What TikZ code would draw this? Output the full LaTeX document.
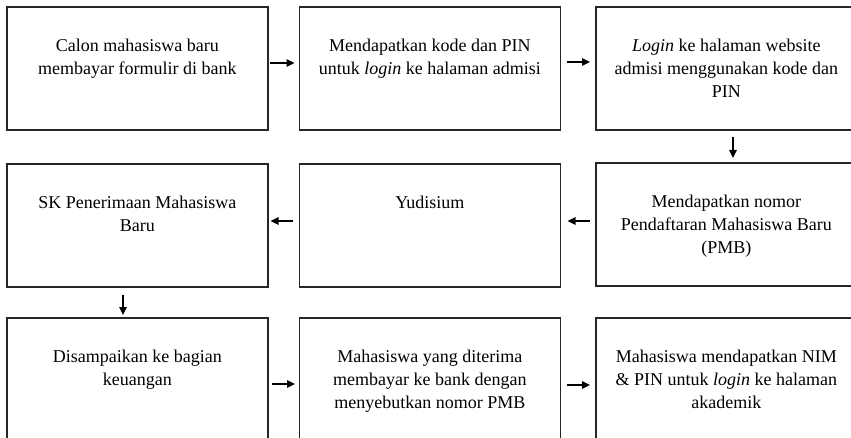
\documentclass[tikz,border=0pt]{standalone}
\usepackage{fontspec}
\setmainfont{Liberation Serif}
\usetikzlibrary{arrows.meta}
\begin{document}
\begin{tikzpicture}[x=1pt,y=-1pt,
  box/.style={draw=black!85, line width=1.6pt, minimum width=261pt, minimum height=123pt, anchor=north west, inner sep=0pt},
  txt/.style={anchor=north, align=center, inner sep=0pt, font=\fontsize{18}{23}\selectfont},
  arr/.style={-{Triangle[length=8pt,width=7.5pt]}, line width=1.4pt}]
\useasboundingbox (0,0) rectangle (851,438);
\clip (0,0) rectangle (851,438);
% row 1
\node[box] (b1) at (6,6) {};
\node[box] (b2) at (298.5,6) {};
\node[box] (b3) at (595,6) {};
% row 2
\node[box] (b6) at (6,163) {};
\node[box] (b5) at (298.5,163) {};
\node[box] (b4) at (595,162) {};
% row 3
\node[box] (b7) at (6,317) {};
\node[box] (b8) at (298.5,317) {};
\node[box] (b9) at (595,317) {};
% texts
\node[txt] (t1) at ([yshift=-33pt]b1.north) {Calon mahasiswa baru\\membayar formulir di bank};
\node[txt] (t2) at ([yshift=-33pt]b2.north) {Mendapatkan kode dan PIN\\untuk \textit{login} ke halaman admisi};
\node[txt] (t3) at ([yshift=-33pt]b3.north) {\textit{Login} ke halaman website\\admisi menggunakan kode dan\\PIN};
\node[txt] (t4) at ([yshift=-33pt]b4.north) {Mendapatkan nomor\\Pendaftaran Mahasiswa Baru\\(PMB)};
\node[txt] (t5) at ([yshift=-33pt]b5.north) {Yudisium};
\node[txt] (t6) at ([yshift=-33pt]b6.north) {SK Penerimaan Mahasiswa\\Baru};
\node[txt] (t7) at ([yshift=-33pt]b7.north) {Disampaikan ke bagian\\keuangan};
\node[txt] (t8) at ([yshift=-33pt]b8.north) {Mahasiswa yang diterima\\membayar ke bank dengan\\menyebutkan nomor PMB};
\node[txt] (t9) at ([yshift=-33pt]b9.north) {Mahasiswa mendapatkan NIM\\\& PIN untuk \textit{login} ke halaman\\akademik};
% connectors
\draw[arr, shorten <=1pt, shorten >=4pt] (b1.east |- 0,63) -- (b2.west |- 0,63);
\draw[arr, shorten <=5.5pt, shorten >=5pt] (b2.east |- 0,62) -- (b3.west |- 0,62);
\draw[arr, shorten <=6pt, shorten >=4pt] (b3.south -| 733,0) -- (b4.north -| 733,0);
\draw[arr, shorten <=5pt, shorten >=6.5pt] (b4.west |- 0,221) -- (b5.east |- 0,221);
\draw[arr, shorten <=5.5pt, shorten >=2pt] (b5.west |- 0,221) -- (b6.east |- 0,221);
\draw[arr, shorten <=7pt, shorten >=2pt] (b6.south -| 123,0) -- (b7.north -| 123,0);
\draw[arr, shorten <=3pt, shorten >=3.5pt] (b7.east |- 0,384) -- (b8.west |- 0,384);
\draw[arr, shorten <=5.5pt, shorten >=5pt] (b8.east |- 0,385) -- (b9.west |- 0,385);
\end{tikzpicture}
\end{document}
